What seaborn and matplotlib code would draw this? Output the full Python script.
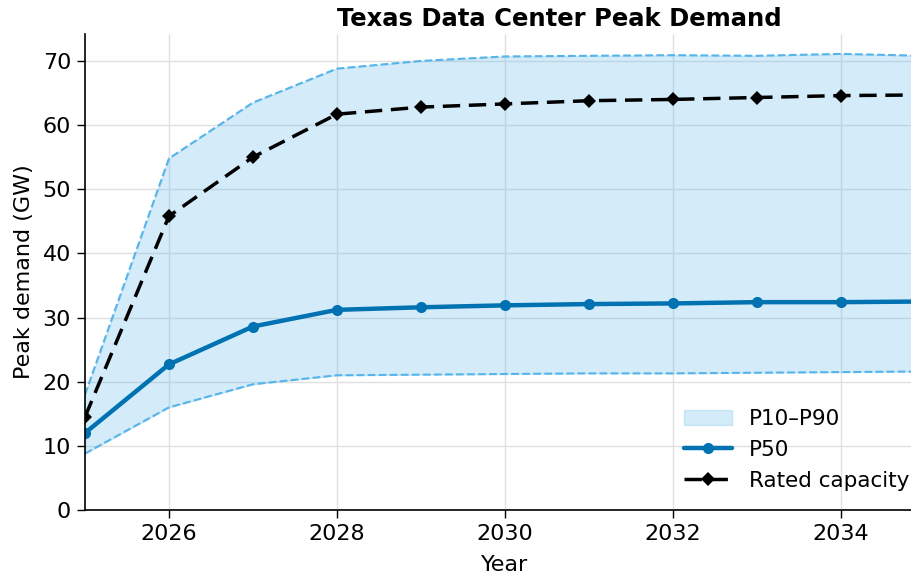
import matplotlib
matplotlib.use("Agg")
import matplotlib.pyplot as plt
import seaborn as sns
import pandas as pd

# Data
years = [2025, 2026, 2027, 2028, 2029, 2030, 2031, 2032, 2033, 2034, 2035]
p10 = [8.8, 16.0, 19.6, 21.0, 21.1, 21.2, 21.3, 21.3, 21.4, 21.5, 21.6]
p50 = [12.0, 22.7, 28.6, 31.2, 31.6, 31.9, 32.1, 32.2, 32.4, 32.4, 32.5]
p90 = [18.0, 54.8, 63.5, 68.8, 70.0, 70.7, 70.8, 70.9, 70.8, 71.1, 70.8]
rated = [14.5, 45.8, 55.0, 61.7, 62.8, 63.3, 63.8, 64.0, 64.3, 64.6, 64.7]

df = pd.DataFrame({"Year": years, "P10": p10, "P50": p50, "P90": p90, "Rated": rated})

sns.set_style("whitegrid")
plt.rcParams["font.family"] = ["DejaVu Sans"]
for key in ["text.color", "axes.labelcolor", "xtick.color", "ytick.color"]:
    plt.rcParams[key] = "black"

fig, ax = plt.subplots(figsize=(9.12, 5.74), dpi=100)
fig.subplots_adjust(left=85 / 912, right=1.0, top=1 - 34 / 574, bottom=1 - 510 / 574)

band_color = "#56B4E9"
p50_color = "#0072B2"

ax.fill_between(df["Year"], df["P10"], df["P90"], color=band_color, alpha=0.25,
                linewidth=1, label="P10\u2013P90")
ax.plot(df["Year"], df["P10"], color=band_color, linestyle="--", linewidth=1.5)
ax.plot(df["Year"], df["P90"], color=band_color, linestyle="--", linewidth=1.5)

sns.lineplot(data=df, x="Year", y="P50", ax=ax, color=p50_color, linewidth=3.2,
             marker="o", markersize=8, markeredgewidth=0, label="P50")
sns.lineplot(data=df, x="Year", y="Rated", ax=ax, color="black", linewidth=2.5,
             linestyle="--", marker="D", markersize=7.5, markeredgewidth=0,
             label="Rated capacity")
ax.lines[-1].set_dashes([5, 2.5])

ax.set_xlim(2025, 2034.85)
ax.set_ylim(0, 74.2)
ax.set_xticks([2026, 2028, 2030, 2032, 2034])
ax.set_yticks(range(0, 71, 10))

ax.set_title("Texas Data Center Peak Demand", fontsize=17.5, fontweight="bold",
             pad=6, x=(559 - 85) / 827)
ax.set_xlabel("Year", fontsize=16)
ax.set_ylabel("Peak demand (GW)", fontsize=16, labelpad=6)
ax.xaxis.set_label_coords((505 - 85) / 827, -0.095)
ax.tick_params(axis="both", labelsize=16, length=6, width=1, color="black",
               bottom=True, left=True, pad=4)

ax.grid(True, color="#e0e0e0", linewidth=1)
for side in ["top", "right"]:
    ax.spines[side].set_visible(False)
for side in ["left", "bottom"]:
    ax.spines[side].set_color("black")
    ax.spines[side].set_linewidth(1.2)

ax.legend(loc="lower right", frameon=False, fontsize=15.5, handlelength=2.2,
          bbox_to_anchor=(1.02, 0.0))

fig.savefig("out.png", dpi=100)
